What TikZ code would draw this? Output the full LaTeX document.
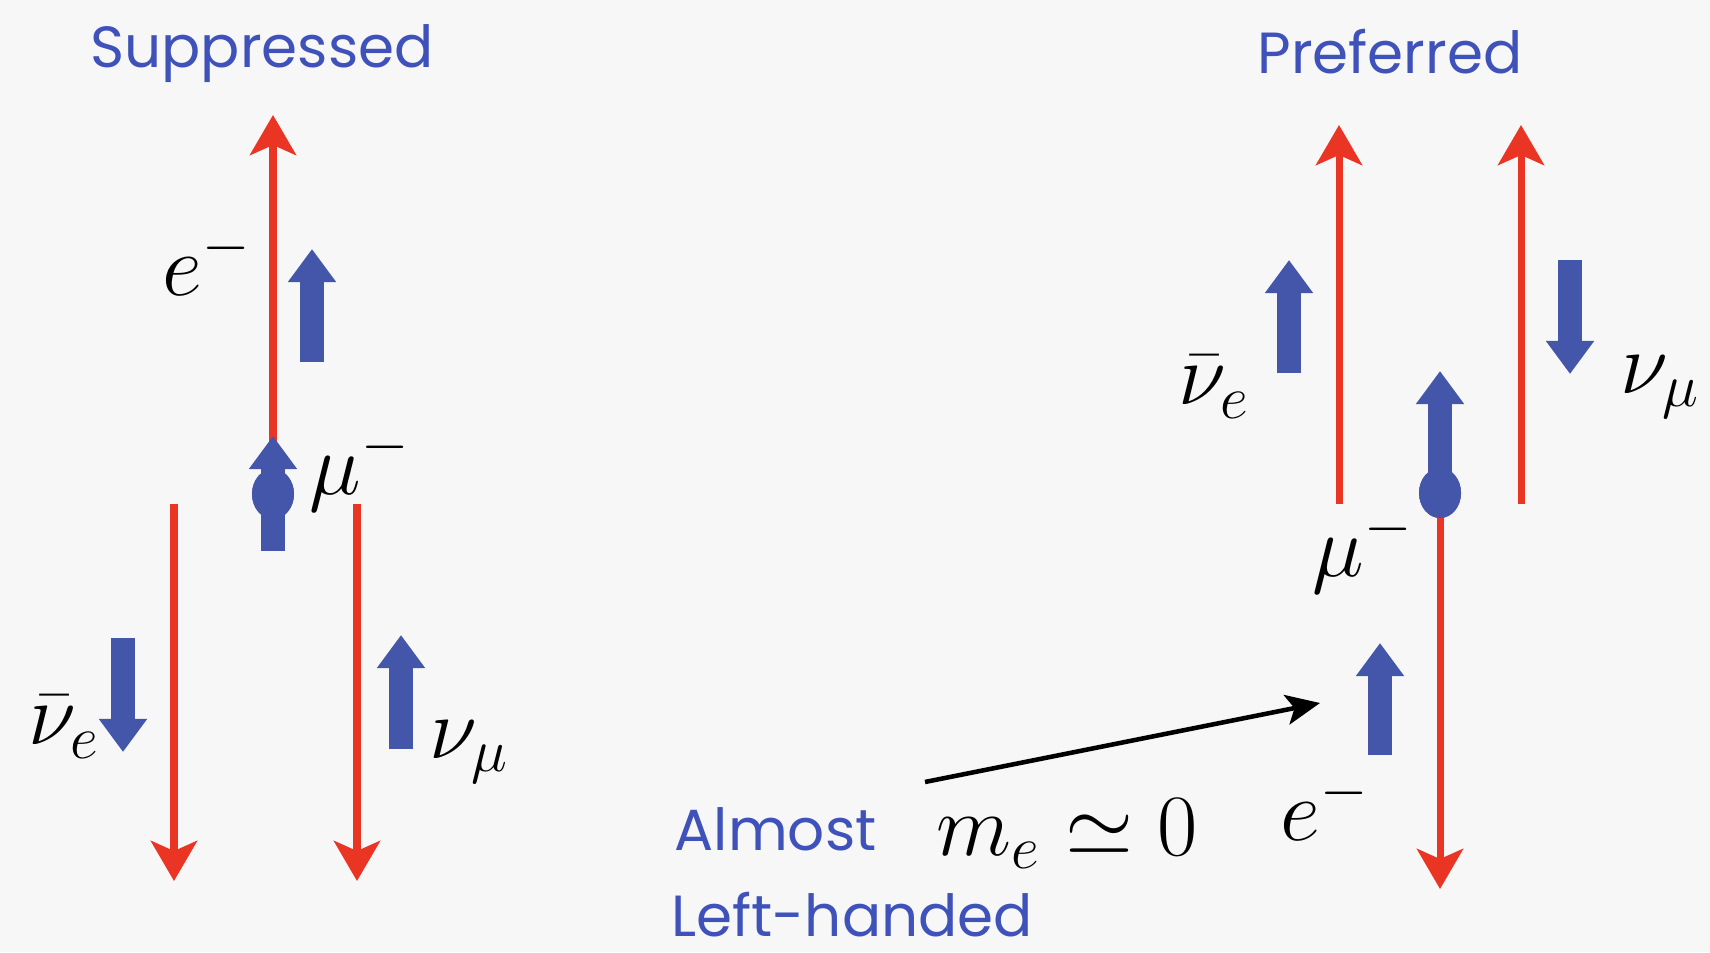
\documentclass[tikz,border=0pt]{standalone}
\usepackage{fontspec}
\usepackage{amsmath, amssymb}
\usepackage{xcolor}
\usepackage{tikz}
\usetikzlibrary{arrows.meta, positioning, shapes.geometric}
\newfontfamily\handfont{Poppins}
\definecolor{spinblue}{RGB}{68,86,170}
\definecolor{textblue}{RGB}{62,82,186}
\definecolor{trackred}{RGB}{234,52,36}

\begin{document}
\begin{tikzpicture}[>=Stealth,x=0.01cm,y=-0.01cm,
  track/.style={draw=trackred,line width=2pt,
                -{Stealth[length=0.4cm,width=0.46cm,inset=0.1cm]}},
  spin/.style={draw=spinblue,line width=0.24cm,
               -{Triangle[length=0.33cm,width=0.46cm]}},
  muon/.style={ellipse,fill=spinblue,minimum width=0.42cm,
               minimum height=0.5cm,inner sep=0pt},
  head/.style={text=textblue,font=\handfont\fontsize{16.5}{20}\selectfont},
  lbl/.style={font=\fontsize{25}{30}\selectfont,inner sep=0pt}]
  \fill[black!3] (0,0) rectangle (1710,952);
  \useasboundingbox (0,0) rectangle (1710,952);

  \node[head] (supp) at (262,54) {Suppressed};
  \node[muon] (muL) at (273,494) {};
  \coordinate (eLtip) at (273,115);
  \coordinate (nebL) at (174,504);
  \coordinate (nebLtip) at (174,881);
  \coordinate (numL) at (357,504);
  \coordinate (numLtip) at (357,881);
  \draw[track] (muL.center) -- (eLtip);
  \draw[track] (nebL) -- (nebLtip);
  \draw[track] (numL) -- (numLtip);
  \draw[spin] (273,551) -- (273,436);
  \node[muon] at (muL) {};
  \draw[spin] (312,362) -- (312,249);
  \draw[spin] (123,638) -- (123,752);
  \draw[spin] (401,749) -- (401,635);
  \node[lbl] (eL) at (207,262) {$e^-$};
  \node[lbl] (muLlbl) at (360,469) {$\mu^-$};
  \node[lbl] (nebLlbl) at (64,727) {$\bar\nu_e$};
  \node[lbl] (numLlbl) at (469,752) {$\nu_\mu$};

  \node[head] (pref) at (1390,52) {Preferred};
  \node[muon] (muR) at (1440,493) {};
  \coordinate (nebR) at (1339,504);
  \coordinate (nebRtip) at (1339,125);
  \coordinate (numR) at (1521,504);
  \coordinate (numRtip) at (1521,125);
  \coordinate (eRtip) at (1440,889);
  \draw[track] (nebR) -- (nebRtip);
  \draw[track] (numR) -- (numRtip);
  \draw[track] (muR.center) -- (eRtip);
  \draw[spin] (muR.center) -- (1440,371);
  \node[muon] at (muR) {};
  \draw[spin] (1289,373) -- (1289,260);
  \draw[spin] (1570,260) -- (1570,374);
  \draw[spin] (1380,755) -- (1380,643);
  \node[lbl] (nebRlbl) at (1214,387) {$\bar\nu_e$};
  \node[lbl] (numRlbl) at (1660,387) {$\nu_\mu$};
  \node[lbl] (muRlbl) at (1363,551) {$\mu^-$};
  \node[lbl] (eR) at (1325,807) {$e^-$};

  \node[head,anchor=west,inner sep=0pt] (almost) at (674,829) {Almost};
  \node[head,anchor=west,inner sep=0pt] (lefth) at (671,915) {Left-handed};
  \node[lbl] (mass) at (1067,834) {$m_e\simeq 0$};
  \coordinate (ptr) at (925,782);
  \coordinate (ptrtip) at (1320,703);
  \draw[->,line width=1.3pt,>={Stealth[length=0.34cm,width=0.3cm,inset=0.08cm]}]
    (ptr) -- (ptrtip);
\end{tikzpicture}
\end{document}
